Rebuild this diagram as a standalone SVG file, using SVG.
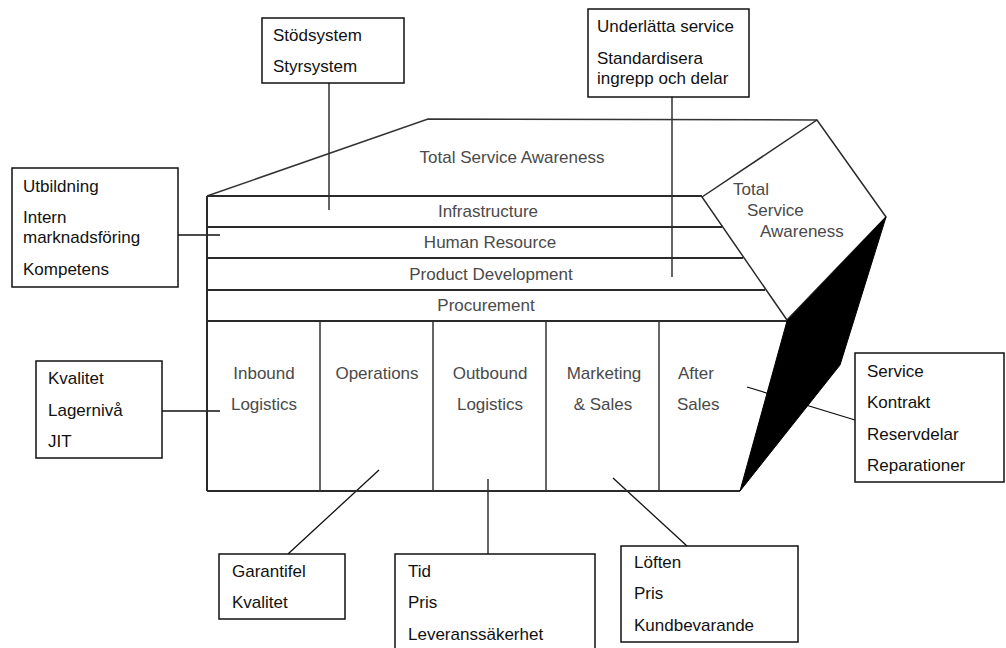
<svg xmlns="http://www.w3.org/2000/svg" width="1006" height="648" viewBox="0 0 1006 648">
<style>
text{font-family:"Liberation Sans",Arial,sans-serif;font-size:17px}
.lbl{fill:#4a4a4a}
.bt{fill:#111}
.box{fill:#fff;stroke:#111;stroke-width:1.5}
.row{fill:none;stroke:#2a2a2a;stroke-width:2}
.thin{fill:none;stroke:#333;stroke-width:1.5}
.con{fill:none;stroke:#111;stroke-width:1.3}
</style>
<rect width="1006" height="648" fill="#fff"/>
<g id="connectors">
<line class="con" x1="329" y1="83" x2="329" y2="210"/>
<line class="con" x1="672" y1="97" x2="672" y2="277"/>
<line class="con" x1="178" y1="235" x2="220" y2="235"/>
<line class="con" x1="162" y1="411" x2="220" y2="411"/>
<line class="con" x1="747" y1="387" x2="855" y2="420"/>
<line class="con" x1="288" y1="554" x2="379" y2="470"/>
<line class="con" x1="488" y1="479" x2="488" y2="554"/>
<line class="con" x1="613" y1="478" x2="687" y2="546"/>
</g>
<g id="total-service-awareness-top">
<polyline class="thin" points="207,196 428,119 817,120"/>
<text class="lbl" x="512" y="163" text-anchor="middle">Total Service Awareness</text>
</g>
<g id="support-activities">
<line class="row" x1="207" y1="196" x2="702" y2="196"/>
<line class="row" x1="207" y1="227" x2="722" y2="227"/>
<line class="row" x1="207" y1="258" x2="743" y2="258"/>
<line class="row" x1="207" y1="290" x2="765" y2="290"/>
<line class="row" x1="207" y1="321" x2="787" y2="321"/>
<text class="lbl" x="488" y="217" text-anchor="middle">Infrastructure</text>
<text class="lbl" x="490" y="248" text-anchor="middle">Human Resource</text>
<text class="lbl" x="491" y="280" text-anchor="middle">Product Development</text>
<text class="lbl" x="486" y="311" text-anchor="middle">Procurement</text>
</g>
<g id="primary-activities">
<line class="row" x1="207" y1="196" x2="207" y2="491"/>
<line class="row" x1="207" y1="491" x2="740" y2="491"/>
<line class="thin" x1="320" y1="321" x2="320" y2="491"/>
<line class="thin" x1="433" y1="321" x2="433" y2="491"/>
<line class="thin" x1="546" y1="321" x2="546" y2="491"/>
<line class="thin" x1="659" y1="321" x2="659" y2="491"/>
<text class="lbl" x="264" y="379" text-anchor="middle">Inbound</text>
<text class="lbl" x="264" y="410" text-anchor="middle">Logistics</text>
<text class="lbl" x="377" y="379" text-anchor="middle">Operations</text>
<text class="lbl" x="490" y="379" text-anchor="middle">Outbound</text>
<text class="lbl" x="490" y="410" text-anchor="middle">Logistics</text>
<text class="lbl" x="604" y="379" text-anchor="middle">Marketing</text>
<text class="lbl" x="603" y="410" text-anchor="middle">&amp; Sales</text>
<text class="lbl" x="678" y="379">After</text>
<text class="lbl" x="677" y="410">Sales</text>
</g>
<g id="margin-arrow">
<polygon points="702,197 817,120 886,217 787,320" fill="#fff" stroke="#2a2a2a" stroke-width="1.5"/>
<polygon points="787,321 886,217 840,365 740,491" fill="#000" stroke="#000" stroke-width="1"/>
<text class="lbl" x="733" y="195">Total</text>
<text class="lbl" x="747" y="216">Service</text>
<text class="lbl" x="760" y="237">Awareness</text>
</g>
<g id="box-stodsystem">
<rect class="box" x="262" y="18" width="142" height="65"/>
<text class="bt" x="273" y="41">Stödsystem</text>
<text class="bt" x="273" y="72">Styrsystem</text>
</g>
<g id="box-underlatta">
<rect class="box" x="588" y="9" width="161" height="88"/>
<text class="bt" x="597" y="32">Underlätta service</text>
<text class="bt" x="597" y="64">Standardisera</text>
<text class="bt" x="597" y="84">ingrepp och delar</text>
</g>
<g id="box-utbildning">
<rect class="box" x="12" y="168" width="166" height="119"/>
<text class="bt" x="23" y="192">Utbildning</text>
<text class="bt" x="23" y="223">Intern</text>
<text class="bt" x="23" y="243">marknadsföring</text>
<text class="bt" x="23" y="275">Kompetens</text>
</g>
<g id="box-kvalitet">
<rect class="box" x="36" y="361" width="126" height="97"/>
<text class="bt" x="48" y="384">Kvalitet</text>
<text class="bt" x="48" y="416">Lagernivå</text>
<text class="bt" x="48" y="447">JIT</text>
</g>
<g id="box-service">
<rect class="box" x="855" y="353" width="149" height="129"/>
<text class="bt" x="867" y="377">Service</text>
<text class="bt" x="867" y="408">Kontrakt</text>
<text class="bt" x="867" y="440">Reservdelar</text>
<text class="bt" x="867" y="471">Reparationer</text>
</g>
<g id="box-garantifel">
<rect class="box" x="219" y="554" width="126" height="65"/>
<text class="bt" x="232" y="577">Garantifel</text>
<text class="bt" x="232" y="608">Kvalitet</text>
</g>
<g id="box-tid">
<rect class="box" x="395" y="554" width="200" height="100"/>
<text class="bt" x="408" y="577">Tid</text>
<text class="bt" x="408" y="608">Pris</text>
<text class="bt" x="408" y="640">Leveranssäkerhet</text>
</g>
<g id="box-loften">
<rect class="box" x="621" y="546" width="177" height="96"/>
<text class="bt" x="634" y="568">Löften</text>
<text class="bt" x="634" y="599">Pris</text>
<text class="bt" x="634" y="631">Kundbevarande</text>
</g>
</svg>
